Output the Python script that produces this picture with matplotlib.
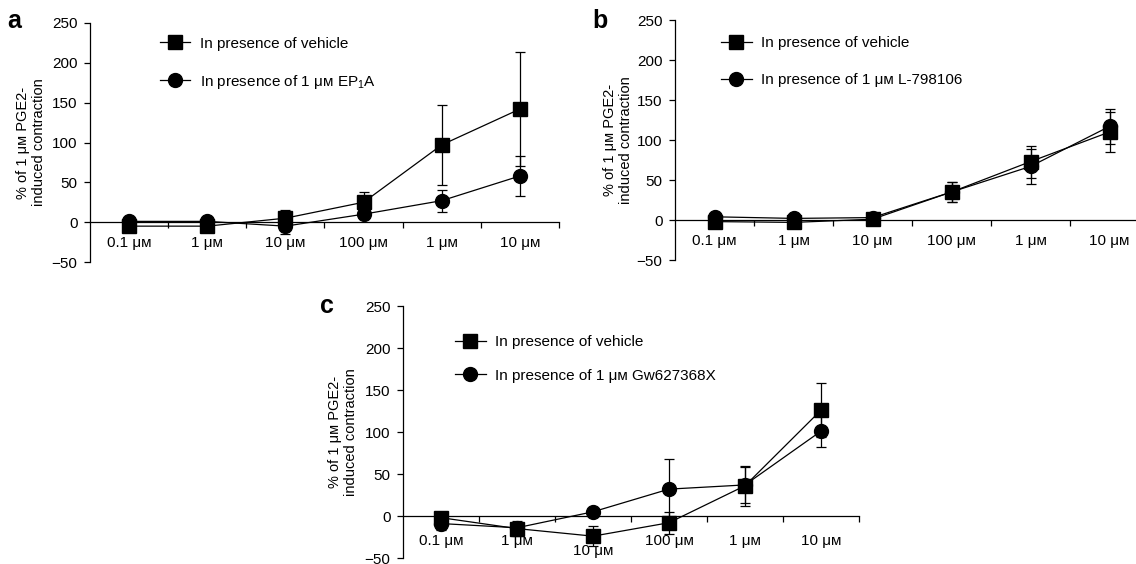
import matplotlib
matplotlib.use("Agg")
import matplotlib.pyplot as plt
import matplotlib.transforms as mtransforms
from matplotlib.lines import Line2D

plt.rcParams['font.family'] = ['Liberation Sans', 'DejaVu Sans']
plt.rcParams['font.size'] = 11
plt.rcParams['mathtext.default'] = 'regular'

MU = "\u03bc\u1d0d"  # mu + small capital M
conc = ["0.1 " + MU, "1 " + MU, "10 " + MU, "100 " + MU, "1 " + MU, "10 " + MU]
yticks = [-50, 0, 50, 100, 150, 200, 250]
ylab = "% of 1 " + MU + " PGE2-\ninduced contraction"

# panel a
veh_a = [-5, -5, 5, 25, 97, 142]
veh_a_err = [3, 3, 10, 13, 50, 72]
ep1a = [1, 1, -5, 10, 27, 58]
ep1a_err = [3, 3, 10, 6, 14, 25]

# panel b
veh_b = [-2, -3, 1, 35, 73, 110]
veh_b_err = [3, 3, 5, 13, 20, 25]
l798 = [4, 2, 3, 35, 67, 117]
l798_err = [3, 3, 4, 12, 22, 22]

# panel c
veh_c = [-2, -15, -24, -8, 36, 126]
veh_c_err = [5, 9, 12, 13, 24, 32]
gw = [-9, -14, 5, 32, 37, 101]
gw_err = [8, 4, 3, 36, 21, 19]

W, H = 1136, 564
fig = plt.figure(figsize=(W / 100, H / 100), dpi=100)


def px_axes(left, right, top, bottom):
    return fig.add_axes([left / W, 1 - bottom / H, (right - left) / W, (bottom - top) / H])


def panel(ax, s1, e1, s2, e2, lab2, letter, letter_xy, leg_xy, lspace, lab_x, lpad):
    x = range(len(conc))
    ax.errorbar(x, s1, yerr=e1, fmt='s-', color='k', ms=10, lw=0.9,
                elinewidth=0.9, capsize=3.5, capthick=0.9, clip_on=False, zorder=3)
    ax.errorbar(x, s2, yerr=e2, fmt='o-', color='k', ms=10, lw=0.9,
                elinewidth=0.9, capsize=3.5, capthick=0.9, clip_on=False, zorder=3)
    ax.set_xlim(-0.5, len(conc) - 0.5)
    ax.set_ylim(-50, 250)
    ax.set_yticks(yticks)
    ax.set_yticklabels([str(v).replace('-', '\u2212') for v in yticks])
    ax.set_xticks([i + 0.5 for i in x])
    ax.set_xticklabels([])
    ax.set_xticks(list(x), minor=True)
    ax.set_xticklabels(conc, minor=True)
    for s in ['top', 'right']:
        ax.spines[s].set_visible(False)
    ax.spines['bottom'].set_position(('data', 0))
    ax.spines['left'].set_linewidth(0.9)
    ax.spines['bottom'].set_linewidth(0.9)
    ax.tick_params(axis='y', direction='out', length=4, width=0.9, pad=5, labelsize=11)
    ax.tick_params(axis='x', which='major', direction='out', length=4, width=0.9)
    ax.tick_params(axis='x', which='minor', length=0, pad=lpad, labelsize=11)
    ax.set_ylabel(ylab, fontsize=10.5, linespacing=1.15)
    ax.yaxis.set_label_coords(lab_x, 0.5)
    h1 = Line2D([], [], color='k', marker='s', ms=10, lw=0.9)
    h2 = Line2D([], [], color='k', marker='o', ms=10, lw=0.9)
    ax.legend([h1, h2], ["In presence of vehicle", lab2], loc='upper left',
              bbox_to_anchor=leg_xy, frameon=False, borderpad=0, borderaxespad=0,
              handlelength=2.0, handletextpad=0.6, labelspacing=lspace, fontsize=11)
    ax.text(letter_xy[0], letter_xy[1], letter, transform=ax.transAxes, fontsize=18,
            fontweight='bold', ha='center', va='baseline')


ax_a = px_axes(90, 559, 23, 262)
panel(ax_a, veh_a, veh_a_err, ep1a, ep1a_err, "In presence of 1 " + MU + " EP$_1$A",
      'a', (-0.162, 0.979), (0.149, 0.943), 1.45, -0.094, 10)

ax_b = px_axes(675, 1149, 20, 260)
panel(ax_b, veh_b, veh_b_err, l798, l798_err, "In presence of 1 " + MU + " L-798106",
      'b', (-0.158, 0.967), (0.097, 0.932), 1.5, -0.089, 10)

ax_c = px_axes(403, 859, 306, 558)
panel(ax_c, veh_c, veh_c_err, gw, gw_err, "In presence of 1 " + MU + " Gw627368X",
      'c', (-0.167, 0.972), (0.114, 0.885), 1.28, -0.099, 13)
# the 10 uM label in panel c sits lower than the rest
lbl = ax_c.xaxis.get_minor_ticks()[2].label1
lbl.set_transform(lbl.get_transform() +
                  mtransforms.ScaledTranslation(0, -0.10, fig.dpi_scale_trans))

fig.savefig("out.png", dpi=100)
